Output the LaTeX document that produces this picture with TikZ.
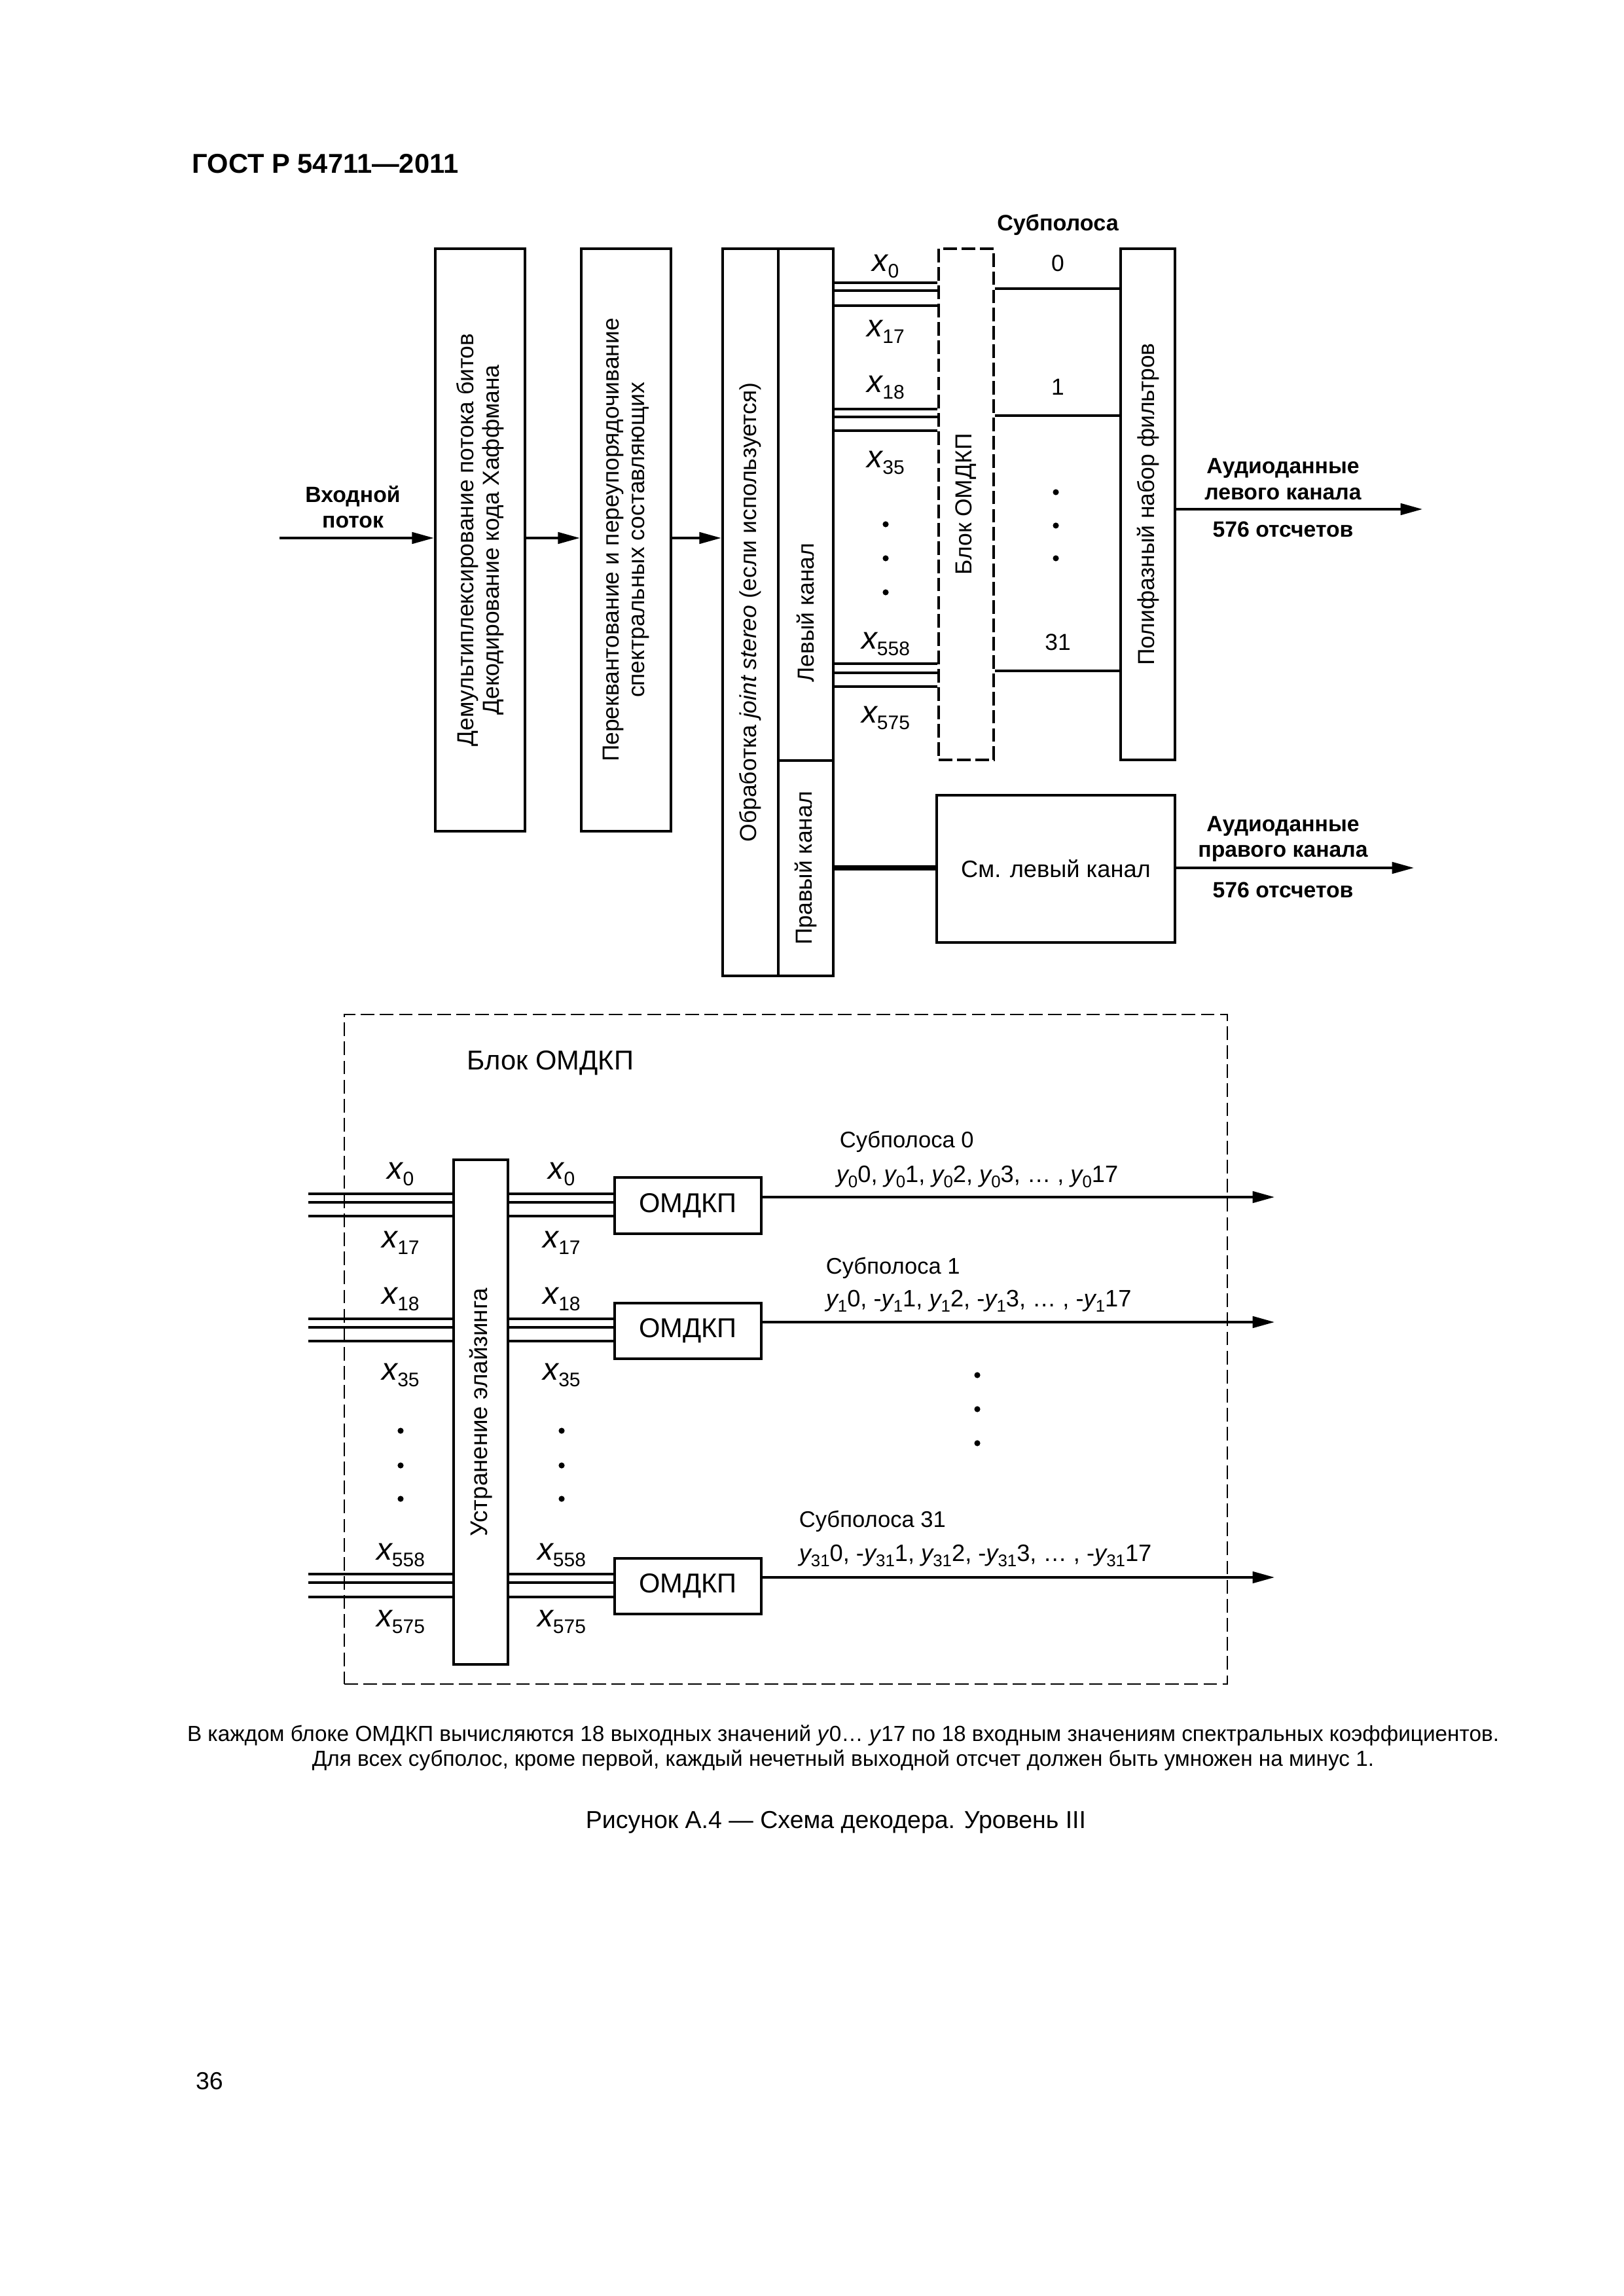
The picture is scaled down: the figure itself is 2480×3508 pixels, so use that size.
\documentclass[tikz,border=0pt]{standalone}
\usepackage{fontspec}
\setmainfont{Liberation Sans}
\usetikzlibrary{arrows.meta,fit}
\newcommand{\xsub}[1]{{\fontsize{11.5}{12}\selectfont\itshape x}\raisebox{-2.4pt}{\fontsize{7.2}{8}\selectfont #1}}
\newcommand{\ysub}[1]{{\itshape y}\raisebox{-2.1pt}{\fontsize{6.2}{7}\selectfont #1}}
\begin{document}
\begin{tikzpicture}[x=0.24pt,y=-0.24pt,
  box/.style={draw,line width=1.1pt,inner sep=0pt,rectangle},
  dbox/.style={draw,line width=0.8pt,inner sep=0pt,rectangle,dash pattern=on 5pt off 1.7pt},
  dboxb/.style={draw,line width=0.65pt,inner sep=0pt,rectangle,dash pattern=on 5pt off 2pt},
  conn/.style={line width=0.8pt},
  connb/.style={line width=0.9pt},
  arr/.style={line width=0.8pt,-{Triangle[length=8pt,width=4.2pt]}},
  lbl/.style={font=\fontsize{8.5}{9.4}\selectfont,inner sep=0pt,align=center},
  blbl/.style={font=\bfseries\fontsize{8.1}{9.4}\selectfont,inner sep=0pt,align=center},
  rlbl/.style={font=\fontsize{8.5}{9.4}\selectfont,inner sep=0pt,align=center,rotate=90},
  xl/.style={inner sep=0pt},
  sl/.style={font=\fontsize{8.3}{9}\selectfont,inner sep=0pt,anchor=base west},
  yl/.style={font=\fontsize{8.7}{9}\selectfont,inner sep=0pt,anchor=base west}
]
\useasboundingbox (0,0) rectangle (2480,3508);
\fill[white] (0,0) rectangle (2480,3508);

% title
\node[anchor=west,font=\bfseries\fontsize{10}{11}\selectfont,inner sep=0pt] (title) at (293,250) {ГОСТ Р 54711—2011};

% ---------- top part ----------
\node[box,fit={(665,380)(802,1270)}] (demux) {};
\node[box,fit={(888,380)(1025,1270)}] (requant) {};
\node[box,fit={(1104,380)(1189,1491)}] (jsp) {};
\node[box,fit={(1189,380)(1273,1162)}] (lcan) {};
\node[box,fit={(1189,1162)(1273,1491)}] (rcan) {};
\node[dbox,fit={(1434,380)(1518,1161)}] (mdct) {};
\node[box,fit={(1712,380)(1795,1161)}] (poly) {};
\node[box,fit={(1431,1215)(1795,1440)}] (seel) {};

\node[rlbl] (demuxT) at (demux.center) {Демультиплексирование потока битов\\Декодирование кода Хаффмана};
\node[rlbl] (requantT) at (requant.center) {Переквантование и переупорядочивание\\спектральных составляющих};
\node[rlbl] (jspT) at (jsp.center) {Обработка \textit{joint stereo} (если используется)};
\node[rlbl] (lcanT) at (1231,936) {Левый канал};
\node[rlbl] (rcanT) at (rcan.center) {Правый канал};
\node[rlbl] (mdctT) at (mdct.center) {Блок ОМДКП};
\node[rlbl] (polyT) at (poly.center) {Полифазный набор фильтров};
\node[lbl,font=\fontsize{8.7}{9.4}\selectfont] (seelT) at (seel.center) {См. левый канал};

\coordinate (inS) at (427,822);
\draw[arr] (inS) -- (inS -| demux.west);
\draw[arr] (demux.east |- inS) -- (requant.west |- inS);
\draw[arr] (requant.east |- inS) -- (jsp.west |- inS);
\node[blbl] (inT) at (539,775) {Входной\\поток};

\foreach \y in {432,444,467,625,637,658,1014,1028,1049}
  \draw[conn] (lcan.east |- 0,\y) -- (mdct.west |- 0,\y);
\foreach \y in {441,635,1025}
  \draw[conn] (mdct.east |- 0,\y) -- (poly.west |- 0,\y);

\node[xl] (tx0) at (1353,407) {\xsub{0}};
\node[xl] (tx17) at (1353,507) {\xsub{17}};
\node[xl] (tx18) at (1353,592) {\xsub{18}};
\node[xl] (tx35) at (1353,707) {\xsub{35}};
\node[xl] (tx558) at (1353,984) {\xsub{558}};
\node[xl] (tx575) at (1353,1097) {\xsub{575}};
\foreach \y in {801,853,905} \fill (1353,\y) circle (1.1pt);

\node[lbl,font=\bfseries\fontsize{8.2}{9}\selectfont] (subT) at (1616,344) {Субполоса};
\node[lbl] (s0) at (1616,402) {0};
\node[lbl] (s1) at (1616,591) {1};
\node[lbl] (s31) at (1616,981) {31};
\foreach \y in {752,803,853} \fill (1613,\y) circle (1.1pt);

\coordinate (outL) at (2173,778);
\draw[arr] (poly.east |- outL) -- (outL);
\node[blbl] (outLT) at (1960,732) {Аудиоданные\\левого канала};
\node[blbl] (outLN) at (1960,809) {576 отсчетов};

\draw[line width=1.7pt] (rcan.east |- 0,1326) -- (seel.west |- 0,1326);
\coordinate (outR) at (2160,1326);
\draw[arr] (seel.east |- outR) -- (outR);
\node[blbl] (outRT) at (1960,1282) {Аудиоданные\\правого канала};
\node[blbl] (outRN) at (1960,1360) {576 отсчетов};

% ---------- bottom part ----------
\node[dboxb,fit={(526,1550)(1875,2573)}] (blk) {};
\node[anchor=base west,inner sep=0pt,font=\fontsize{10}{11}\selectfont] (blkT) at (713,1634) {Блок ОМДКП};
\node[box,fit={(693,1772)(776,2543)}] (dealias) {};
\node[rlbl,font=\fontsize{8.8}{9.4}\selectfont] (dealiasT) at (dealias.center) {Устранение элайзинга};

\node[box,fit={(939,1799)(1163,1885)}] (om0) {};
\node[box,fit={(939,1991)(1163,2076)}] (om1) {};
\node[box,fit={(939,2381)(1163,2466)}] (om31) {};
\foreach \n in {om0,om1,om31}
  \node[inner sep=0pt,font=\fontsize{10}{11}\selectfont] (\n T) at (\n.center) {ОМДКП};

\coordinate (lstart) at (471,0);
\foreach \y in {1824,1837,1858,2015,2028,2049,2405,2418,2440} {
  \draw[connb] (lstart |- 0,\y) -- (dealias.west |- 0,\y);
  \draw[connb] (dealias.east |- 0,\y) -- (om0.west |- 0,\y);
}

\coordinate (e0) at (1947,1829);
\coordinate (e1) at (1947,2020);
\coordinate (e31) at (1947,2410);
\draw[arr] (om0.east |- e0) -- (e0);
\draw[arr] (om1.east |- e1) -- (e1);
\draw[arr] (om31.east |- e31) -- (e31);

\foreach \xx/\nm in {612/L,858/R} {
  \node[xl] (bx0\nm) at (\xx,1794) {\xsub{0}};
  \node[xl] (bx17\nm) at (\xx,1899) {\xsub{17}};
  \node[xl] (bx18\nm) at (\xx,1985) {\xsub{18}};
  \node[xl] (bx35\nm) at (\xx,2101) {\xsub{35}};
  \node[xl] (bx558\nm) at (\xx,2376) {\xsub{558}};
  \node[xl] (bx575\nm) at (\xx,2478) {\xsub{575}};
  \foreach \y in {2186,2239,2290} \fill (\xx,\y) circle (1.1pt);
}

\node[sl] (sb0) at (1282,1753) {Субполоса 0};
\node[yl] (yr0) at (1277,1806) {\ysub{0}0, \ysub{0}1, \ysub{0}2, \ysub{0}3, … , \ysub{0}17};
\node[sl] (sb1) at (1261,1946) {Субполоса 1};
\node[yl] (yr1) at (1261,1996) {\ysub{1}0, -\ysub{1}1, \ysub{1}2, -\ysub{1}3, … , -\ysub{1}17};
\node[sl] (sb31) at (1220,2333) {Субполоса 31};
\node[yl] (yr31) at (1220,2385) {\ysub{31}0, -\ysub{31}1, \ysub{31}2, -\ysub{31}3, … , -\ysub{31}17};
\foreach \y in {2101,2153,2205} \fill (1493,\y) circle (1.1pt);

% ---------- notes ----------
\node[inner sep=0pt,font=\fontsize{8}{9}\selectfont] (note1) at (1288,2652) {В каждом блоке ОМДКП вычисляются 18 выходных значений \textit{y}0… \textit{y}17 по 18 входным значениям спектральных коэффициентов.};
\node[inner sep=0pt,font=\fontsize{8}{9}\selectfont] (note2) at (1288,2690) {Для всех субполос, кроме первой, каждый нечетный выходной отсчет должен быть умножен на минус 1.};
\node[inner sep=0pt,font=\fontsize{9}{10}\selectfont] (caption) at (1277,2784) {Рисунок А.4 — Схема декодера. Уровень III};
\node[inner sep=0pt,font=\fontsize{9}{10}\selectfont] (page) at (320,3180) {36};
\end{tikzpicture}
\end{document}
